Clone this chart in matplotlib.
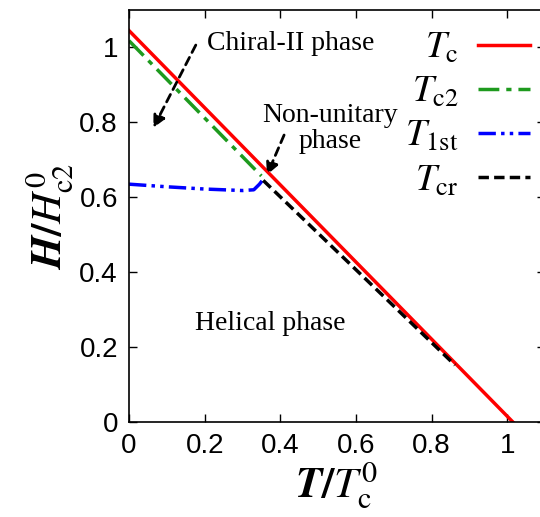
import numpy as np
from matplotlib import pyplot as plt

plt.rcParams['mathtext.fontset'] = 'stix'
plt.rcParams['font.family'] = ['Liberation Sans', 'DejaVu Sans']

# phase boundaries
tc_T = [0.0, 1.015]
tc_H = [1.045, 0.0]
tc2_T = [0.0, 0.35]
tc2_H = [1.018, 0.657]
t1st_T = [0.0, 0.1, 0.2, 0.3, 0.33, 0.345, 0.355]
t1st_H = [0.635, 0.628, 0.622, 0.618, 0.62, 0.635, 0.648]
tcr_T = [0.355, 0.862]
tcr_H = [0.645, 0.152]

fig = plt.figure(figsize=(5.4, 5.17), dpi=100)
ax = fig.add_axes([129/540, 95/517, 416/540, 412/517])

ax.plot(tc_T, tc_H, color='#ff0000', lw=2.5, label=r'$T_{\rm c}$')
ax.plot(tc2_T, tc2_H, color='#1e9a1e', lw=2.5, ls=(0, (6, 2, 1.5, 2)), label=r'$T_{\rm c2}$')
ax.plot(t1st_T, t1st_H, color='#0000ff', lw=2.5, ls=(0, (5, 1.5, 1, 1.5, 1, 1.5)), label=r'$T_{\rm 1st}$')
ax.plot(tcr_T, tcr_H, color='black', lw=2.5, ls=(0, (3, 1.5)), label=r'$T_{\rm cr}$')

arrow = dict(arrowstyle='-|>', color='black', lw=2, ls=(0, (3, 2)), mutation_scale=18)
ax.annotate('', xy=(0.061, 0.779), xytext=(0.18, 1.013), arrowprops=arrow)
ax.annotate('', xy=(0.362, 0.653), xytext=(0.413, 0.773), arrowprops=arrow)

serif = ['Liberation Serif', 'DejaVu Serif']
ax.text(0.207, 1.01, 'Chiral-II phase', family=serif, fontsize=20, va='center')
ax.text(0.532, 0.784, 'Non-unitary\nphase', family=serif, fontsize=20, va='center', ha='center',
        linespacing=1.05)
ax.text(0.373, 0.264, 'Helical phase', family=serif, fontsize=20, va='center', ha='center')

ax.set_xlim(0, 1.1)
ax.set_ylim(0, 1.1)
ax.set_xticks([0, 0.2, 0.4, 0.6, 0.8, 1])
ax.set_xticklabels(['0', '0.2', '0.4', '0.6', '0.8', '1'])
ax.set_yticks([0, 0.2, 0.4, 0.6, 0.8, 1])
ax.set_yticklabels(['0', '0.2', '0.4', '0.6', '0.8', '1'])
ax.tick_params(direction='in', top=True, right=True, length=6, width=1, labelsize=20, pad=8)
for s in ax.spines.values():
    s.set_linewidth(1.2)

ax.set_xlabel(r'$\boldsymbol{T/T_{\rm c}^0}$', fontsize=31, labelpad=0)
ax.set_ylabel(r'$\boldsymbol{H/H_{\rm c2}^0}$', fontsize=31, labelpad=2)

ax.legend(loc='upper right', bbox_to_anchor=(0.964, 0.952), frameon=False, markerfirst=False,
          fontsize=27, handlelength=1.4, labelspacing=0.22, handletextpad=0.5,
          borderpad=0, borderaxespad=0)

fig.savefig('out.png')
